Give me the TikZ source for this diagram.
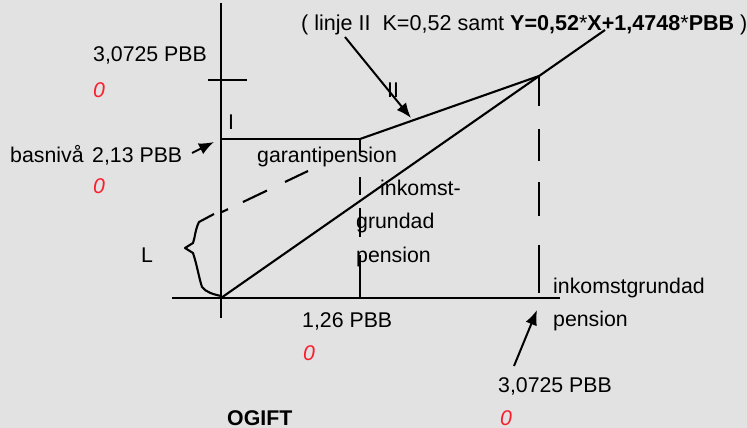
\documentclass[tikz,border=0pt]{standalone}
\usepackage{fontspec}
\setmainfont{Liberation Sans}
\usetikzlibrary{arrows.meta}
\definecolor{bg}{RGB}{226,226,226}
\definecolor{zred}{RGB}{250,30,45}
\begin{document}
\begin{tikzpicture}[x=1pt,y=-1pt,
  lbl/.style={inner sep=0pt, anchor=base west, font=\fontsize{21.3}{25}\selectfont},
  zero/.style={inner sep=0pt, anchor=base west, text=zred, font=\fontsize{21.3}{25}\selectfont\itshape},
  axisline/.style={line width=2.6pt},
  thinline/.style={line width=2.1pt},
  arr/.style={line width=2pt, -{Latex[length=15pt,width=12pt]}}]
\fill[bg] (0,0) rectangle (747,428);
\useasboundingbox (0,0) rectangle (747,428);

% key points
\coordinate (Otop) at (221,3);
\coordinate (Obot) at (221,318);
\coordinate (Xl) at (172,298);
\coordinate (Xr) at (560,298);
\coordinate (O) at (221,298);
\coordinate (Tl) at (208,80);
\coordinate (Tr) at (247,80);
\coordinate (Gl) at (221,139);
\coordinate (G) at (360,139);
\coordinate (Gb) at (360,298);
\coordinate (K) at (539,76);
\coordinate (Kb) at (539,298);
\coordinate (E) at (605,30);
\coordinate (Ds) at (222,212);
\coordinate (De) at (308,171);

% axes
\draw[axisline] (Otop) -- (Obot);
\draw[axisline] (Xl) -- (Xr);
\draw[axisline] (Tl) -- (Tr);
% garantipension level
\draw[axisline] (Gl) -- (G);
\draw[axisline, dash pattern=on 13pt off 25pt on 18pt off 13pt on 29pt off 18pt on 43pt off 10pt] (G) -- (Gb);
\draw[axisline, dash pattern=on 30pt off 23pt on 32pt off 21pt on 34pt off 29pt on 48pt off 10pt] (K) -- (Kb);
% lines
\draw[thinline] (G) -- (K);
\draw[thinline] (O) -- (E);
\draw[thinline, dash pattern=on 6.6pt off 16.6pt on 26.6pt off 20pt on 25.5pt off 10pt] (Ds) -- (De);
% brace
\coordinate (B1) at (214,214);
\coordinate (B2) at (221,296);
\draw[thinline, line join=round] (B1) -- (199,222) .. controls (195,230) and (195,238) .. (193,243) -- (185,248) -- (193,253) .. controls (197,265) and (199,278) .. (202,287) .. controls (206,292) and (212,294) .. (B2);

% texts
\node[lbl] (t1) at (93,62) {3,0725 PBB};
\node[zero] (z1) at (93,97) {0};
\node[lbl] (bas) at (10,162) {basnivå};
\node[lbl] (t2) at (92,162) {2,13 PBB};
\node[zero] (z2) at (93,193) {0};
\node[lbl] (lI) at (228,129) {I};
\node[lbl] (lII) at (387,97) {II};
\node[lbl] (lL) at (141,262) {L};
\node[lbl] (gar) at (257,162) {garantipension};
\node[lbl] (ink1) at (380,195) {inkomst-};
\node[lbl] (ink2) at (356,228) {grundad};
\node[lbl] (ink3) at (356,262) {pension};
\node[lbl] (t3) at (302,327) {1,26 PBB};
\node[zero] (z3) at (303,360) {0};
\node[lbl, font=\fontsize{21.3}{25}\selectfont\bfseries] (og) at (227,425) {OGIFT};
\node[lbl] (ig1) at (553,293) {inkomstgrundad};
\node[lbl] (ig2) at (553,326) {pension};
\node[lbl] (t4) at (498,392) {3,0725 PBB};
\node[zero] (z4) at (500,425) {0};
\node[lbl, font=\fontsize{21.55}{25}\selectfont] (top) at (301,31) {( linje II\ \ K=0,52 samt \textbf{Y=0,52}*\textbf{X+1,4748}*\textbf{PBB} )};

% arrows
\coordinate (a1s) at (345,37);
\coordinate (a1e) at (411,118);
\coordinate (a2s) at (192,153);
\coordinate (a2e) at (214,142);
\coordinate (a3s) at (514,366);
\coordinate (a3e) at (537,310);
\draw[arr] (a1s) -- (a1e);
\draw[arr] (a2s) -- (a2e);
\draw[arr] (a3s) -- (a3e);
\end{tikzpicture}
\end{document}
